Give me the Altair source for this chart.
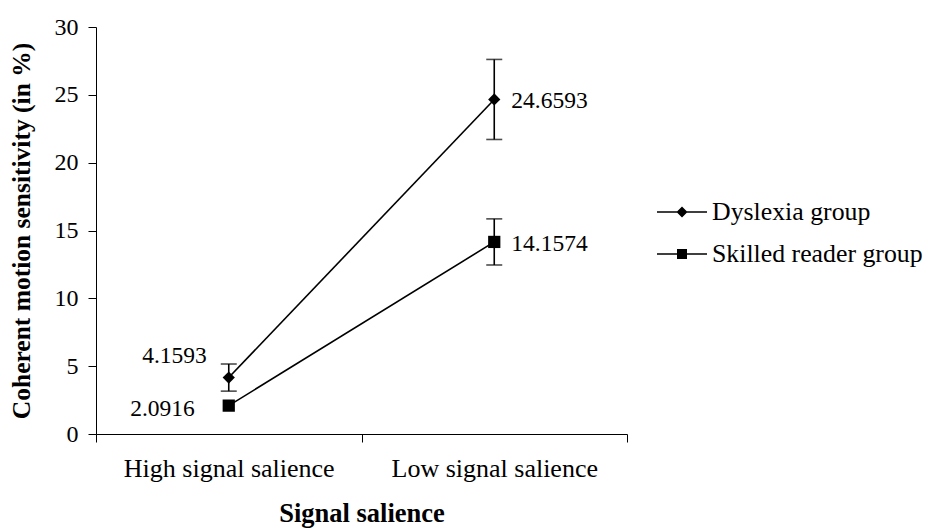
import altair as alt
import pandas as pd

categories = ["High signal salience", "Low signal salience"]
groups = ["Dyslexia group", "Skilled reader group"]
dyslexia_means = [4.1593, 24.6593]
dyslexia_err = [1.0, 2.95]
skilled_means = [2.0916, 14.1574]
skilled_err = [0.0, 1.7]

rows = []
for g, means, errs in [(groups[0], dyslexia_means, dyslexia_err),
                       (groups[1], skilled_means, skilled_err)]:
    for c, m, e in zip(categories, means, errs):
        rows.append({"cond": c, "group": g, "mean": m, "lo": m - e, "hi": m + e})
df = pd.DataFrame(rows)

FONT = "Liberation Serif, Times New Roman, serif"

x = alt.X(
    "cond:N", sort=categories,
    scale=alt.Scale(type="band", paddingInner=0, paddingOuter=0),
    axis=alt.Axis(
        title="Signal salience", tickBand="extent", labelAngle=0, grid=False,
        tickSize=8, labelPadding=13, titlePadding=19, labelLimit=0,
        domainColor="black", tickColor="black", labelColor="black",
        titleColor="black", labelFont=FONT, titleFont=FONT,
        labelFontSize=26, titleFontSize=26.5, titleFontWeight="bold",
        labelFontWeight="normal",
    ),
)
y = alt.Y(
    "mean:Q",
    scale=alt.Scale(domain=[0, 30], nice=False, zero=True),
    axis=alt.Axis(
        title="Coherent motion sensitivity (in %)", values=[0, 5, 10, 15, 20, 25, 30],
        grid=False, tickSize=8, labelPadding=10, titlePadding=20, labelLimit=0,
        domainColor="black", tickColor="black", labelColor="black",
        titleColor="black", labelFont=FONT, titleFont=FONT,
        labelFontSize=24, titleFontSize=25.5, titleFontWeight="bold",
    ),
)

base = alt.Chart(df)
err_base = base.transform_filter(alt.datum.hi > alt.datum.lo)

lines = base.mark_line(color="black", strokeWidth=1.6).encode(
    x=x, y=y, detail="group:N"
)

err_rules = err_base.mark_rule(color="black", strokeWidth=1.6).encode(
    x=x, y=alt.Y("lo:Q"), y2="hi:Q"
)
cap_lo = err_base.mark_tick(color="black", size=16, thickness=1.6).encode(
    x=x, y=alt.Y("lo:Q")
)
cap_hi = err_base.mark_tick(color="black", size=16, thickness=1.6).encode(
    x=x, y=alt.Y("hi:Q")
)

points = base.mark_point(filled=True, color="black", opacity=1, size=150).encode(
    x=x, y=y,
    shape=alt.Shape("group:N", sort=groups,
                    scale=alt.Scale(domain=groups, range=["diamond", "square"]),
                    legend=None),
)

diamond_path = "M-1,-0.03L1,-0.03L1,0.03L-1,0.03ZM-0.22,0L0,-0.22L0.22,0L0,0.22Z"
square_path = "M-1,-0.03L1,-0.03L1,0.03L-1,0.03ZM-0.2,-0.2L0.2,-0.2L0.2,0.2L-0.2,0.2Z"

legend_pts = base.mark_point(filled=True, color="black", opacity=0, size=150).encode(
    x=x, y=y,
    shape=alt.Shape(
        "group:N", sort=groups,
        scale=alt.Scale(domain=groups, range=[diamond_path, square_path]),
        legend=alt.Legend(
            title=None, orient="none", legendX=561, legendY=160,
            symbolSize=2500, symbolOpacity=1, symbolFillColor="black",
            symbolStrokeWidth=0, rowPadding=4, labelOffset=5, padding=0,
            labelFont=FONT, labelFontSize=25.8, labelColor="black", labelLimit=0,
        ),
    ),
)

txt_kw = dict(font=FONT, fontSize=23.5, color="black", baseline="middle")
labels_low = base.mark_text(align="left", dx=17, dy=2, **txt_kw).encode(
    x=x, y=y, text=alt.Text("mean:Q", format=".4f")
).transform_filter(alt.datum.cond == categories[1])
label_dys_high = base.mark_text(align="right", dx=-22, dy=-22, **txt_kw).encode(
    x=x, y=y, text=alt.Text("mean:Q", format=".4f")
).transform_filter((alt.datum.cond == categories[0]) & (alt.datum.group == groups[0]))
label_sk_high = base.mark_text(align="right", dx=-34, dy=3, **txt_kw).encode(
    x=x, y=y, text=alt.Text("mean:Q", format=".4f")
).transform_filter((alt.datum.cond == categories[0]) & (alt.datum.group == groups[1]))

chart = alt.layer(
    lines, err_rules, cap_lo, cap_hi, points, legend_pts,
    labels_low, label_dys_high, label_sk_high
).resolve_scale(shape="independent").properties(
    width=531, height=407,
    view=alt.ViewBackground(strokeWidth=0, strokeOpacity=0),
    autosize=alt.AutoSizeParams(type="none"),
    padding={"left": 96, "top": 27, "right": 301, "bottom": 95},
).configure_view(strokeWidth=0, strokeOpacity=0).configure(background="white", font=FONT)

chart.save("out.html", embed_options={"renderer": "svg", "actions": False})
